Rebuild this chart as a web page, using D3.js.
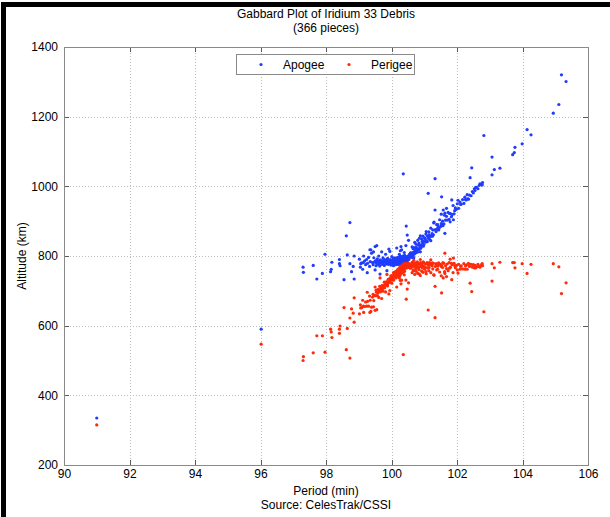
<!DOCTYPE html>
<html>
<head>
<meta charset="utf-8">
<script src="https://cdn.jsdelivr.net/npm/d3@7"></script>
<style>
html, body { margin: 0; padding: 0; background: #fff; }
svg { display: block; font-family: "Liberation Sans", Arial, sans-serif; }
</style>
</head>
<body>
<svg id="chart" width="610" height="517"></svg>
<script>
// one entry per debris piece: orbital period (min), apogee (km), perigee (km)
const period = [
  // outliers + sparse left side
  91.00, 96.02, 97.30, 97.31, 97.61, 97.72, 97.89, 97.97, 98.14, 98.16, 98.18, 98.41, 98.41, 98.43, 98.55, 98.62, 98.65, 98.73, 98.73, 98.83, 98.78, 98.86, 98.86,
  // lower branch
  99.02, 99.06, 99.09, 99.12, 99.14, 99.18, 99.21, 99.24, 99.27, 99.30,
  99.33, 99.35, 99.37, 99.39, 99.42, 99.44, 99.46, 99.48, 99.50, 99.52,
  99.54, 99.55, 99.57, 99.59, 99.61, 99.63, 99.64, 99.66, 99.68, 99.70,
  99.71, 99.73, 99.74, 99.76, 99.78, 99.79, 99.81, 99.82, 99.84, 99.85,
  99.87, 99.88, 99.90, 99.91, 99.92, 99.94, 99.95, 99.96, 99.98, 99.99,
  100.00, 100.01, 100.02, 100.03, 100.05, 100.06, 100.07, 100.08, 100.09, 100.10,
  100.11, 100.12, 100.13, 100.14, 100.15, 100.16, 100.17, 100.18, 100.19, 100.20,
  99.34, 99.50, 99.45, 99.95, 100.16, 99.26, 99.65, 99.86, 99.15, 99.05,
  // core
  100.21, 100.22, 100.22, 100.23, 100.24, 100.24, 100.25, 100.26, 100.26, 100.27,
  100.28, 100.28, 100.29, 100.30, 100.30, 100.31, 100.31, 100.32, 100.33, 100.33,
  100.34, 100.34, 100.35, 100.35, 100.36, 100.37, 100.37, 100.38, 100.38, 100.39,
  100.40, 100.40, 100.41, 100.42, 100.42, 100.43, 100.44, 100.44, 100.45, 100.46,
  100.46, 100.47, 100.48, 100.48, 100.49, 100.50, 100.50, 100.51, 100.52, 100.53,
  100.53, 100.54, 100.55, 100.56, 100.56, 100.57, 100.58, 100.59, 100.60,
  100.27, 100.31, 100.36, 100.45, 100.29, 100.24, 100.39, 100.44, 100.52, 100.48,
  100.19, 100.21, 100.23, 100.25, 100.27, 100.29, 100.30, 100.32, 100.32, 100.34,
  100.36, 100.36, 100.38, 100.39, 100.41, 100.43, 100.45, 100.47, 100.49, 100.51,
  100.55, 100.58, 100.40, 100.35, 100.30, 100.26, 100.20, 100.14, 100.10, 100.05,
  99.98, 99.93, 99.89, 99.83, 99.77, 99.72, 99.67, 99.62, 99.58, 99.53,
  // upper branch
  100.61, 100.62, 100.63, 100.64, 100.65, 100.66, 100.67, 100.68, 100.69, 100.70,
  100.71, 100.72, 100.73, 100.74, 100.75, 100.76, 100.77, 100.78, 100.79, 100.80,
  100.81, 100.82, 100.83, 100.84, 100.86, 100.87, 100.88, 100.89, 100.91, 100.92,
  100.93, 100.95, 100.96, 100.98, 100.99, 101.01, 101.03, 101.04, 101.06, 101.08,
  101.10, 101.12, 101.12, 101.14, 101.16, 101.18, 101.20, 101.22, 101.24, 101.26,
  101.28, 101.30, 101.33, 101.33, 101.34, 101.36, 101.38, 101.40, 101.42, 101.44,
  101.47, 101.50, 101.52, 101.53, 101.53, 101.56, 101.58, 101.60, 101.63, 101.63,
  101.65, 101.68, 101.68, 101.70, 101.73, 101.76, 101.79, 101.80, 101.84, 101.85,
  101.88, 101.89, 101.91, 101.95, 101.98, 102.01, 102.05, 102.09, 102.13, 102.17,
  102.21, 102.24, 102.28, 102.31, 102.35, 102.38, 102.40, 102.43, 102.45, 102.47,
  102.50, 102.53, 102.55, 102.57, 102.60, 102.64, 102.68, 102.70, 102.75, 102.77,
  102.78, 102.82,
  100.63, 100.66, 100.74, 100.78, 100.85, 100.90, 100.94, 100.97, 101.05, 101.09,
  101.15, 101.25, 101.29, 101.41, 101.45, 101.52, 101.57, 101.62, 101.77, 101.83,
  101.93, 102.03, 102.11, 102.26, 102.33, 100.68, 100.88, 101.20,
  // sparse right side
  103.07, 103.07, 103.14, 103.31, 103.70, 103.75, 103.77, 103.99, 104.14, 104.26, 104.94, 105.11, 105.19, 105.33
]

const apogee = [
  335, 590, 768, 753, 773, 734, 750, 805, 755, 762, 782, 790, 778, 772, 732, 858, 803, 896, 778, 770, 755, 800, 734,
  791, 778, 780, 762, 781, 786, 775, 790, 779, 796,
  770, 784, 818, 808, 781, 775, 795, 783, 760, 787,
  779, 830, 792, 776, 800, 784, 771, 789, 780, 812,
  776, 786, 795, 781, 773, 790, 784, 805, 777, 788,
  780, 793, 776, 785, 820, 782, 778, 790, 774, 786,
  781, 798, 777, 788, 783, 772, 794, 780, 786, 776,
  790, 782, 775, 787, 780, 792, 778, 784, 781, 788,
  818, 827, 812, 813, 823, 752, 748, 758, 800, 768,
  782, 790, 776, 785, 779, 795, 783, 788, 777, 781,
  786, 792, 780, 784, 776, 789, 781, 785, 779, 797,
  783, 788, 781, 792, 785, 780, 789, 783, 795, 786,
  782, 791, 785, 788, 781, 790, 786, 794, 788, 791,
  785, 793, 789, 797, 792, 795, 788, 797, 793, 799,
  791, 801, 796, 803, 798, 805, 800, 808, 803,
  815, 818, 1036, 886, 827, 805, 810, 830, 845, 860,
  776, 793, 778, 790, 775, 791, 781, 778, 793, 779,
  791, 777, 787, 780, 793, 783, 797, 786, 799, 790,
  805, 809, 802, 800, 798, 800, 796, 795, 784, 791,
  784, 779, 787, 781, 788, 778, 785, 779, 785, 772,
  805, 799, 826, 804, 810, 800, 824, 807, 812, 806,
  839, 813, 818, 809, 834, 823, 815, 821, 811, 845,
  820, 831, 818, 837, 831, 824, 858, 822, 831, 849,
  829, 838, 857, 842, 833, 852, 848, 840, 870, 842,
  857, 980, 851, 869, 848, 856, 880, 857, 864, 875,
  861, 897, 932, 1022, 876, 870, 890, 877, 882, 875,
  904, 885, 920, 970, 891, 900, 932, 892, 865, 923,
  903, 937, 914, 903, 925, 905, 898, 922, 961, 919,
  945, 904, 921, 938, 934, 950, 937, 955, 949, 962,
  951, 969, 961, 976, 963, 975, 1025, 973, 1053, 985,
  981, 993, 988, 997, 997, 993, 1003, 1007, 1005, 1004,
  1011, 1146,
  796, 821, 825, 814, 851, 827, 842, 828, 863, 841,
  861, 857, 895, 890, 880, 893, 887, 917, 922, 913,
  930, 960, 948, 962, 964, 795, 812, 844,
  1033, 1084, 1048, 1052, 1091, 1097, 1112, 1122, 1163, 1148, 1210, 1235, 1320, 1301
]

const perigee = [
  315, 547, 500, 511, 522, 571, 571, 524, 590, 582, 566, 578, 590, 599, 652, 531, 592, 507, 622, 636, 648, 610, 680,
  634, 651, 652, 673, 656, 655, 668, 656, 670, 656,
  685, 673, 641, 653, 682, 690, 672, 686, 711, 686,
  696, 646, 686, 704, 681, 699, 713, 697, 708, 678,
  715, 707, 699, 715, 725, 709, 717, 697, 726, 716,
  726, 714, 733, 725, 691, 731, 736, 725, 743, 732,
  738, 722, 744, 734, 740, 752, 731, 746, 741, 752,
  739, 748, 756, 745, 753, 742, 757, 752, 756, 750,
  638, 644, 654, 701, 711, 696, 737, 747, 638, 660,
  756, 750, 763, 756, 763, 747, 760, 756, 767, 764,
  760, 754, 767, 763, 771, 760, 768, 764, 771, 754,
  768, 763, 771, 760, 768, 774, 765, 772, 760, 770,
  775, 766, 773, 771, 778, 770, 775, 767, 774, 772,
  778, 771, 776, 768, 774, 771, 778, 770, 775, 770,
  778, 769, 775, 769, 774, 768, 774, 767, 773,
  730, 731, 517, 676, 720, 737, 746, 731, 723, 705,
  761, 745, 763, 753, 770, 756, 767, 772, 757, 773,
  763, 777, 768, 777, 766, 778, 765, 778, 767, 777,
  766, 765, 756, 753, 750, 744, 742, 737, 744, 732,
  733, 733, 720, 721, 709, 714, 702, 703, 694, 702,
  772, 778, 752, 775, 770, 781, 758, 776, 772, 779,
  747, 774, 770, 780, 756, 768, 777, 772, 783, 750,
  776, 765, 779, 761, 769, 777, 744, 781, 774, 757,
  778, 771, 753, 770, 780, 762, 768, 777, 749, 779,
  766, 645, 774, 758, 781, 775, 752, 777, 772, 763,
  779, 745, 713, 623, 770, 778, 760, 775, 771, 780,
  754, 776, 743, 694, 773, 767, 737, 779, 808, 750,
  772, 741, 764, 777, 758, 781, 791, 768, 732, 775,
  752, 794, 779, 766, 773, 760, 776, 762, 772, 763,
  778, 762, 774, 762, 779, 770, 722, 776, 698, 768,
  775, 766, 773, 766, 769, 776, 770, 768, 775, 778,
  772, 640,
  782, 760, 764, 779, 748, 777, 766, 783, 755, 781,
  767, 780, 746, 762, 776, 770, 781, 755, 765, 779,
  772, 751, 770, 771, 776, 788, 790, 789,
  778, 728, 766, 782, 781, 781, 766, 778, 750, 776, 778, 769, 692, 723
]

const xTicks = [90, 92, 94, 96, 98, 100, 102, 104, 106]
const yTicks = [200, 400, 600, 800, 1000, 1200, 1400]
const seriesNames = ['Apogee', 'Perigee']
const titleLines = ['Gabbard Plot of Iridium 33 Debris', '(' + period.length + ' pieces)']
const xLabel = ['Period (min)', 'Source: CelesTrak/CSSI']
const yLabel = 'Altitude (km)'

const W = 610, H = 517
const PL = 64, PR = 588, PT = 47, PB = 465
const BLUE = '#1f3cff', RED = '#ff2a0a'
const BOX = '#8a8a8a', TICK = '#5a5a5a', GRID = '#bdbdbd'

const svg = d3.select('#chart')
svg.append('rect').attr('width', W).attr('height', H).attr('fill', '#fff')

// black frame on top and left edge of the screenshot
svg.append('rect').attr('x', 1).attr('y', 2).attr('width', W).attr('height', 5).attr('fill', '#000')
svg.append('rect').attr('x', 1).attr('y', 2).attr('width', 5).attr('height', H).attr('fill', '#000')

const x = d3.scaleLinear().domain([90, 106]).range([PL, PR])
const y = d3.scaleLinear().domain([200, 1400]).range([PB, PT])

// dotted grid
const grid = svg.append('g').attr('class', 'grid')
grid.append('g').attr('transform', 'translate(0,' + PB + ')')
  .call(d3.axisBottom(x).tickValues(xTicks.slice(1, -1)).tickSize(-(PB - PT)).tickFormat(''))
grid.append('g').attr('transform', 'translate(' + PL + ',0)')
  .call(d3.axisLeft(y).tickValues(yTicks.slice(1, -1)).tickSize(-(PR - PL)).tickFormat(''))
grid.selectAll('.domain').remove()
grid.selectAll('line').attr('stroke', GRID).attr('stroke-width', 1).attr('stroke-dasharray', '1,2')
  .attr('shape-rendering', 'crispEdges')

// points: apogee first, perigee on top
const plot = svg.append('g')
plot.selectAll('circle.apo').data(period).join('circle').attr('class', 'apo')
  .attr('cx', function (d) { return x(d) }).attr('cy', function (d, i) { return y(apogee[i]) })
  .attr('r', 1.6).attr('fill', BLUE)
plot.selectAll('circle.per').data(period).join('circle').attr('class', 'per')
  .attr('cx', function (d) { return x(d) }).attr('cy', function (d, i) { return y(perigee[i]) })
  .attr('r', 1.6).attr('fill', RED)

// axes with inward ticks on all sides
function styleAxis(g) {
  g.select('.domain').remove()
  g.selectAll('.tick line').attr('stroke', TICK).attr('shape-rendering', 'crispEdges')
  g.selectAll('.tick text').attr('fill', '#000').attr('font-size', '12px')
    .attr('font-family', '"Liberation Sans", Arial, sans-serif')
}
svg.append('g').attr('transform', 'translate(0,' + PB + ')')
  .call(d3.axisBottom(x).tickValues(xTicks).tickSizeInner(-5).tickSizeOuter(0).tickPadding(4).tickFormat(d3.format('d')))
  .call(styleAxis)
svg.append('g').attr('transform', 'translate(0,' + PT + ')')
  .call(d3.axisTop(x).tickValues(xTicks).tickSizeInner(-5).tickSizeOuter(0).tickFormat(''))
  .call(styleAxis)
svg.append('g').attr('transform', 'translate(' + PL + ',0)')
  .call(d3.axisLeft(y).tickValues(yTicks).tickSizeInner(-5).tickSizeOuter(0).tickPadding(6).tickFormat(d3.format('d')))
  .call(styleAxis)
svg.append('g').attr('transform', 'translate(' + PR + ',0)')
  .call(d3.axisRight(y).tickValues(yTicks).tickSizeInner(-5).tickSizeOuter(0).tickFormat(''))
  .call(styleAxis)

svg.append('rect').attr('x', PL + 0.5).attr('y', PT + 0.5).attr('width', PR - PL).attr('height', PB - PT)
  .attr('fill', 'none').attr('stroke', BOX).attr('stroke-width', 1)

// legend
const lg = svg.append('g').attr('transform', 'translate(236,54)')
lg.append('rect').attr('x', 0.5).attr('y', 0.5).attr('width', 178).attr('height', 20)
  .attr('fill', '#fff').attr('stroke', BOX)
lg.selectAll('circle').data([BLUE, RED]).join('circle')
  .attr('cx', function (d, i) { return 25 + i * 88 }).attr('cy', 10.5).attr('r', 1.6).attr('fill', function (d) { return d })
lg.selectAll('text').data(seriesNames).join('text')
  .attr('x', function (d, i) { return 47 + i * 88 }).attr('y', 15)
  .attr('font-size', '12px').attr('fill', '#000').text(function (d) { return d })

// titles and labels
svg.selectAll('text.title').data(titleLines).join('text').attr('class', 'title')
  .attr('x', (PL + PR) / 2).attr('y', function (d, i) { return 18 + i * 14 })
  .attr('text-anchor', 'middle').attr('font-size', '12px').attr('fill', '#000').text(function (d) { return d })
svg.selectAll('text.xlab').data(xLabel).join('text').attr('class', 'xlab')
  .attr('x', (PL + PR) / 2).attr('y', function (d, i) { return 495 + i * 14 })
  .attr('text-anchor', 'middle').attr('font-size', '12px').attr('fill', '#000').text(function (d) { return d })
svg.append('text').attr('transform', 'translate(26,' + ((PT + PB) / 2) + ') rotate(-90)')
  .attr('text-anchor', 'middle').attr('font-size', '12px').attr('fill', '#000').text(yLabel)
</script>
</body>
</html>
